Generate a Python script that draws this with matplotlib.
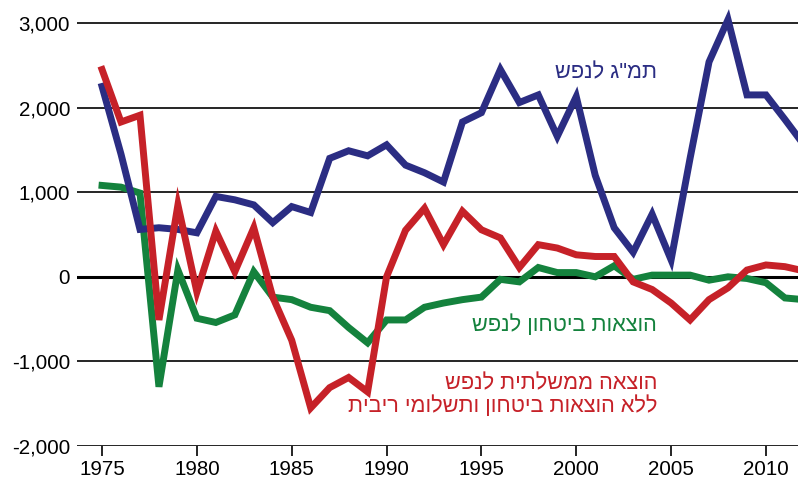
import numpy as np
import matplotlib.pyplot as plt

plt.rcParams['font.family'] = ['Liberation Sans', 'DejaVu Sans']

# data (per-capita changes)
years = list(range(1975, 2013))
gdp = [2250, 1450, 560, 580, 560, 520, 950, 910, 850, 640, 830, 760, 1400, 1490,
       1430, 1560, 1320, 1230, 1120, 1830, 1940, 2450, 2060, 2150, 1660, 2130, 1200,
       580, 290, 740, 200, 1400, 2540, 3040, 2150, 2150, 1860, 1560]
civil = [2450, 1830, 1910, -510, 850, -180, 540, 60, 580, -240, -750, -1550, -1310,
         -1190, -1360, 0, 550, 810, 380, 775, 556, 460, 110, 380, 340, 260, 240, 240,
         -60, -150, -310, -510, -270, -130, 80, 140, 120, 70]
defense = [1080, 1060, 990, -1300, 80, -490, -540, -450, 60, -240, -270, -360, -400,
           -600, -780, -510, -510, -360, -310, -270, -240, -30, -60, 110, 50, 50, 0,
           130, -30, 20, 20, 20, -40, 0, -20, -70, -250, -270]

yticks = [3000, 2000, 1000, 0, -1000, -2000]
xticks = [1975, 1980, 1985, 1990, 1995, 2000, 2005, 2010]

lbl_gdp = 'תמ"ג לנפש'
lbl_def = 'הוצאות ביטחון לנפש'
lbl_civ = ['הוצאה ממשלתית לנפש', 'ללא הוצאות ביטחון ותשלומי ריבית']

blue = '#2b2d83'
red = '#c62128'
green = '#14823d'


def heb(s):
    # matplotlib has no bidi, so flip Hebrew for display
    return s[::-1]


fig = plt.figure(figsize=(7.98, 4.82), dpi=100)
ax = fig.add_axes([77 / 798, 36 / 482, 721 / 798, 446 / 482])

for v in yticks:
    ax.axhline(v, color='black', lw=2.2 if v == 0 else 1.2, zorder=1)

ax.plot(years, defense, color=green, lw=5, solid_joinstyle='miter', zorder=2)
ax.plot(years, gdp, color=blue, lw=5, solid_joinstyle='miter', zorder=3)
ax.plot(years, civil, color=red, lw=5, solid_joinstyle='miter', zorder=4)

ax.set_xlim(1973.68, 2011.69)
ax.set_ylim(-2000, 3272)

for s in ax.spines.values():
    s.set_visible(False)

ax.set_yticks(yticks)
ax.set_yticklabels(['{:,}'.format(v) for v in yticks])
ax.set_xticks(xticks)
ax.tick_params(axis='y', length=0, pad=5, labelsize=14.8)
ax.tick_params(axis='x', length=7, width=1.2, pad=3, labelsize=14.8)

ax.text(2004.26, 2414, heb(lbl_gdp), color=blue, fontsize=15.7, ha='right', va='center')
ax.text(2004.26, -568, heb(lbl_def), color=green, fontsize=15.7, ha='right', va='center')
ax.text(2004.26, -1396, '\n'.join(heb(l) for l in lbl_civ), color=red, fontsize=15.7,
        ha='right', va='center', multialignment='right', linespacing=1.05)

fig.savefig('out.png', dpi=100)
